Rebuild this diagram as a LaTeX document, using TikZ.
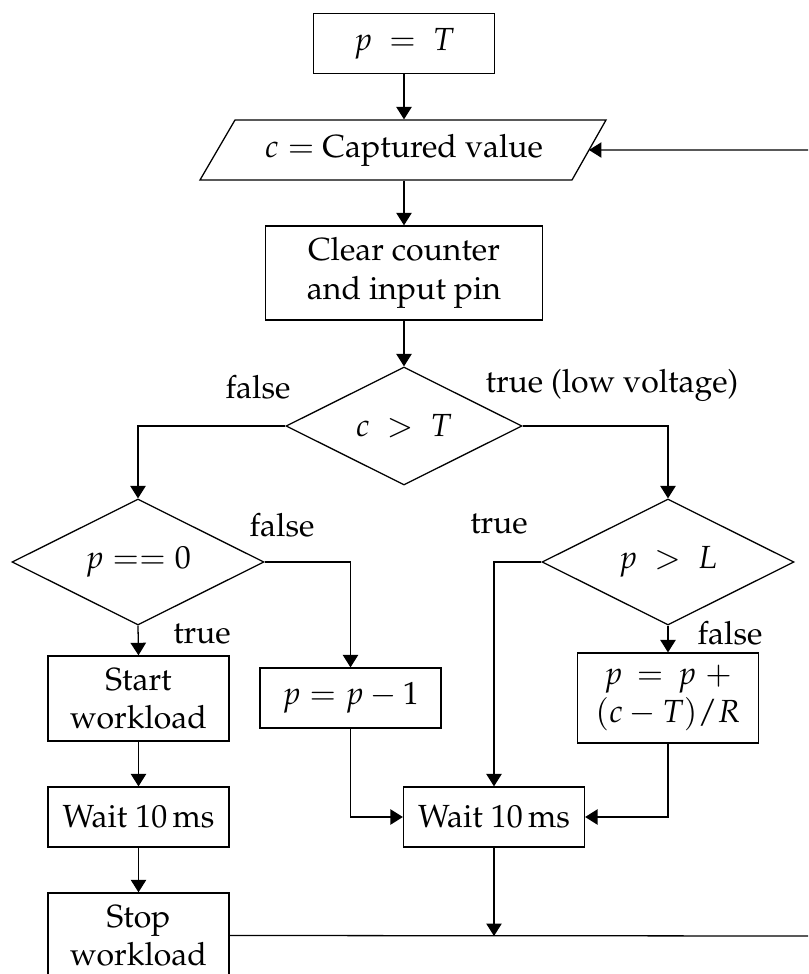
\documentclass[tikz,border=0pt]{standalone}
\usepackage[T1]{fontenc}
\usepackage{mathpazo}
\usetikzlibrary{arrows.meta,shapes.geometric}
\begin{document}
\begin{tikzpicture}[x=0.3125pt,y=-0.3125pt,
  line width=0.4pt,
  box/.style={draw,align=center,inner sep=0pt,minimum width=56.56pt,minimum height=18.75pt},
  tallbox/.style={box,minimum height=26.6pt},
  decision/.style={draw,diamond,inner sep=0pt,aspect=2},
  flow/.style={-{Triangle[width=4.8pt,length=3.9pt]}},
  lbl/.style={inner sep=0pt}]
\useasboundingbox (0,0) rectangle (808,974);
\clip (0,0) rectangle (808,974);

% main column
\node[box] (pT) at (404,43.5) {$p\ =\ T$};
\node[lbl,minimum height=18.75pt] (cv) at (404,150) {$c =$ Captured value};
\draw (200,180) -- (235,120) -- (606,120) -- (572,180) -- cycle;
\coordinate (cvR) at (589,150);
\node[box,minimum width=86.56pt,minimum height=29.4pt] (clear) at (404,273) {Clear counter\\and input pin};
\node[decision,minimum width=73.75pt,minimum height=36.875pt] (d1) at (404,426) {$c\ >\ T$};

% left branch
\node[decision,minimum width=78.75pt,minimum height=39.375pt] (d2) at (138,562) {$p == 0$};
\node[tallbox] (start) at (138.5,698.5) {Start\\workload};
\node[box] (wait1) at (138.5,817) {Wait 10\,ms};
\node[tallbox] (stop) at (138.5,935.5) {Stop\\workload};
\node[box] (pm1) at (350.5,698) {$p = p - 1$};

% right branch
\node[decision,minimum width=78.75pt,minimum height=39.375pt] (d3) at (668,562) {$p\ >\ L$};
\node[box,minimum height=28.1pt] (pp) at (668,698) {$p\,=\,p\;+$\\$(c - T)/R$};
\node[box] (wait2) at (494,817) {Wait 10\,ms};

% branch labels
\node[lbl] at (258,387) {false};
\node[lbl] at (612,385) {true (low voltage)};
\node[lbl] at (282,525) {false};
\node[lbl] at (499,524) {true};
\node[lbl] at (202,634) {true};
\node[lbl] at (730,633) {false};

% connectors
\coordinate (loopA) at (830,936);
\coordinate (join) at (494,936);
\draw[flow] (pT) -- (cv);
\draw[flow] (cv) -- (clear);
\draw[flow] (clear) -- (d1);
\draw[flow] (d1.west) -| (d2.north);
\draw[flow] (d1.east) -| (d3.north);
\draw[flow] (d2.south) -- (start.north);
\draw[flow] (d2.east) -| (pm1.north);
\draw[flow] (d3.south) -- (pp.north);
\draw[flow] (d3.west) -| (wait2.north);
\draw[flow] (start) -- (wait1);
\draw[flow] (wait1) -- (stop);
\draw[flow] (pm1.south) |- (wait2.west);
\draw[flow] (pp.south) |- (wait2.east);
\draw[flow] (wait2.south) -- (join);
\draw[flow] (stop.east) -- (loopA) |- (cvR);
\end{tikzpicture}
\end{document}
